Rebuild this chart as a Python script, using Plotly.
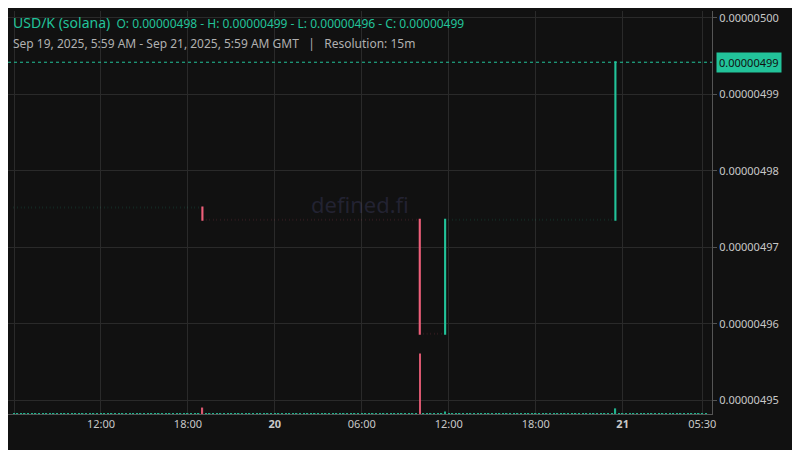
import pandas as pd
import plotly.graph_objects as go

# price levels held between changes (run start, price)
run_starts = ['2025-09-19 05:59', '2025-09-19 19:00', '2025-09-20 10:00',
              '2025-09-20 11:45', '2025-09-20 23:30']
run_prices = [0.0000049752, 0.0000049736, 0.0000049587, 0.0000049736, 0.0000049942]
end_time = '2025-09-21 05:45'

# candles where price moved: time, open, high, low, close, volume
move_times = ['2025-09-19 19:00', '2025-09-20 10:00', '2025-09-20 11:45', '2025-09-20 23:30']
move_open = [0.0000049752, 0.0000049736, 0.0000049587, 0.0000049736]
move_close = [0.0000049736, 0.0000049587, 0.0000049736, 0.0000049942]
move_volume = [8, 75, 3, 7]
quiet_volume = 0.6

GREEN = '#22c39a'
RED = '#ef5f7a'

# expand runs into 15m candles
rows = []
for i, start in enumerate(run_starts):
    last_run = i + 1 == len(run_starts)
    stop = end_time if last_run else run_starts[i + 1]
    for t in pd.date_range(start, stop, freq='15min', inclusive='both' if last_run else 'left'):
        p = run_prices[i]
        rows.append(dict(time=t, open=p, high=p, low=p, close=p, volume=quiet_volume))
df = pd.DataFrame(rows)
for t, o, c, v in zip(move_times, move_open, move_close, move_volume):
    m = df['time'] == pd.Timestamp(t)
    df.loc[m, ['open', 'close', 'high', 'low', 'volume']] = [o, c, max(o, c), min(o, c), v]

vol_colors = [GREEN if c >= o else RED for o, c in zip(df['open'], df['close'])]

fig = go.Figure()
fig.add_trace(go.Bar(x=df['time'], y=df['volume'], marker_color=vol_colors,
                     marker_line_width=0, yaxis='y2', opacity=0.9, width=15 * 60 * 1000 * 0.4))
fig.add_trace(go.Candlestick(x=df['time'], open=df['open'], high=df['high'], low=df['low'], close=df['close'],
                             increasing=dict(line=dict(color=GREEN, width=2), fillcolor=GREEN),
                             decreasing=dict(line=dict(color=RED, width=2), fillcolor=RED),
                             whiskerwidth=0))

last = run_prices[-1]
fig.add_shape(type='line', xref='paper', x0=0, x1=1, y0=last, y1=last,
              line=dict(color=GREEN, width=1, dash='dot'))
fig.add_annotation(xref='paper', x=1.005, y=last, text='0.00000499', showarrow=False,
                   xanchor='left', bgcolor=GREEN, font=dict(color='#111', size=11), borderpad=2)

fig.add_annotation(xref='paper', yref='paper', x=0.5, y=0.52, text='defined.fi', showarrow=False,
                   font=dict(size=22, color='rgba(90,90,150,0.25)'))
fig.add_annotation(xref='paper', yref='paper', x=0.004, y=1.0, xanchor='left', yanchor='top',
                   text='<span style="font-size:14px">USD/K (solana)</span>  O: 0.00000498 - H: 0.00000499 - L: 0.00000496 - C: 0.00000499',
                   showarrow=False, font=dict(color=GREEN, size=12), align='left')
fig.add_annotation(xref='paper', yref='paper', x=0.004, y=0.945, xanchor='left', yanchor='top',
                   text='Sep 19, 2025, 5:59 AM - Sep 21, 2025, 5:59 AM GMT   |   Resolution: 15m',
                   showarrow=False, font=dict(color='#b0b0b0', size=12))

tick_vals = ['2025-09-19 06:00', '2025-09-19 12:00', '2025-09-19 18:00', '2025-09-20 00:00',
             '2025-09-20 06:00', '2025-09-20 12:00', '2025-09-20 18:00', '2025-09-21 00:00', '2025-09-21 05:30']
tick_text = ['6:00', '12:00', '18:00', '<b>20</b>', '06:00', '12:00', '18:00', '<b>21</b>', '05:30']

fig.update_layout(
    width=800, height=450, paper_bgcolor='#111111', plot_bgcolor='#111111',
    margin=dict(l=0, r=96, t=3, b=44), showlegend=False,
    font=dict(family='Noto Sans', color='#c8c8c8', size=11),
    xaxis=dict(range=['2025-09-19 05:35', '2025-09-21 06:10'], rangeslider=dict(visible=False),
               tickvals=tick_vals, ticktext=tick_text, gridcolor='#2a2a2a', showline=True,
               linecolor='#555', zeroline=False),
    yaxis=dict(side='right', range=[0.0000049482, 0.0000050009], tickformat='.8f',
               dtick=0.00000001, gridcolor='#2a2a2a', zeroline=False, showline=True,
               linecolor='#555', ticks='outside', ticklen=4, tickcolor='#555'),
    yaxis2=dict(overlaying='y', range=[0, 75 / 0.15], visible=False),
)

fig.write_html('out.html')
